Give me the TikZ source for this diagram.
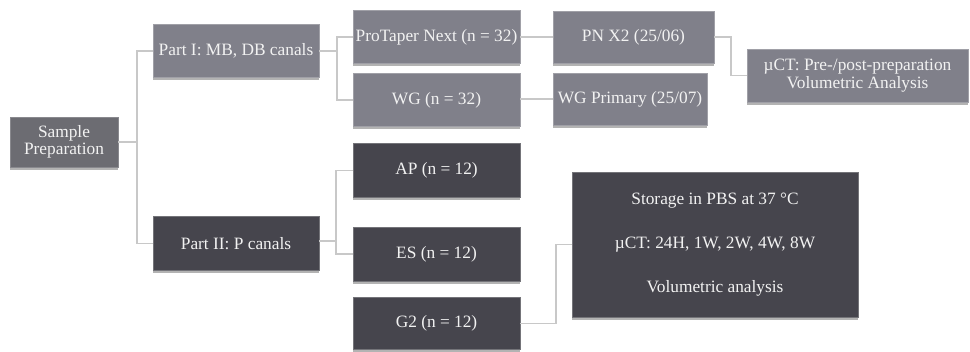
\documentclass[tikz,border=0pt]{standalone}
\usepackage{fontspec}
\setmainfont{Liberation Serif}
\usetikzlibrary{shadows}
\definecolor{rootgray}{RGB}{108,108,114}
\definecolor{lightgray}{RGB}{128,128,138}
\definecolor{darkgray}{RGB}{70,69,77}
\definecolor{linegray}{RGB}{200,200,200}
\definecolor{textwhite}{RGB}{242,242,242}
\begin{document}
\begin{tikzpicture}[x=0.75pt, y=-0.75pt, font=\fontsize{13}{15}\selectfont]
     \tikzstyle{boxnode}=[text=textwhite, inner sep=1pt, align=center,
       drop shadow={shadow xshift=0pt, shadow yshift=-2.2pt, opacity=0.6}]
     \tikzstyle{rootnode}=[boxnode, fill=rootgray, draw=rootgray!80!white, minimum width=81pt, minimum height=37.5pt]
     \tikzstyle{lightnode}=[boxnode, fill=lightgray, draw=lightgray!75!white, minimum height=39.75pt]
     \tikzstyle{darknode}=[boxnode, fill=darkgray, draw=darkgray!75!white, minimum height=40.5pt]
     \tikzstyle{connline}=[draw=linegray, line width=0.8pt]
     \useasboundingbox (0,0) rectangle (970,351);
     % first column
     \node[rootnode] (sample) at (64,142) {Sample\\[-2pt]Preparation};
     \node[lightnode, minimum width=124.5pt] (part1) at (236,51) {Part I: MB, DB canals};
     \node[darknode, minimum width=124.5pt] (part2) at (236,243.5) {Part II: P canals};
     % part I
     \node[lightnode, minimum width=125.25pt] (ptn) at (436.5,37) {ProTaper Next (n = 32)};
     \node[lightnode, minimum width=125.25pt] (wg) at (436.5,100) {WG (n = 32)};
     \node[lightnode, minimum width=120.75pt, minimum height=39pt] (pnx) at (633.5,37) {PN X2 (25/06)};
     \node[lightnode, minimum width=115.5pt, minimum height=39pt] (wgp) at (630,99) {WG Primary (25/07)};
     \node[lightnode, minimum width=165.75pt] (uct) at (857.5,75.5) {µCT: Pre-/post-preparation\\[-1pt]Volumetric Analysis};
     % part II
     \node[darknode, minimum width=125.25pt] (ap) at (436.5,170.5) {AP (n = 12)};
     \node[darknode, minimum width=125.25pt] (es) at (436.5,254) {ES (n = 12)};
     \node[darknode, minimum width=125.25pt, minimum height=39pt] (g2) at (436.5,323.5) {G2 (n = 12)};
     \node[darknode, minimum width=214.5pt, minimum height=108.75pt] (store) at (715,244.5)
       {Storage in PBS at 37 °C\\[18pt]µCT: 24H, 1W, 2W, 4W, 8W\\[18pt]Volumetric analysis};
     % connectors
     \coordinate (s1) at (137,142);
     \coordinate (p1) at (337,51);
     \coordinate (p2) at (336,241);
     \coordinate (x2) at (731,37);
     \coordinate (g2b) at (556,323.5);
     \draw[connline] (sample.east) -- (s1) |- (part1.west);
     \draw[connline] (s1) |- (part2.west);
     \draw[connline] (part1.east) -- (p1) |- (ptn.west);
     \draw[connline] (p1) |- (wg.west);
     \draw[connline] (ptn.east) -- (pnx.west);
     \draw[connline] (wg.east |- wgp.west) -- (wgp.west);
     \draw[connline] (pnx.east) -- (x2) |- (uct.west);
     \draw[connline] (part2.east |- p2) -- (p2) |- (ap.west);
     \draw[connline] (p2) |- (es.west);
     \draw[connline] (g2.east) -- (g2b) |- (store.west);
\end{tikzpicture}
\end{document}
